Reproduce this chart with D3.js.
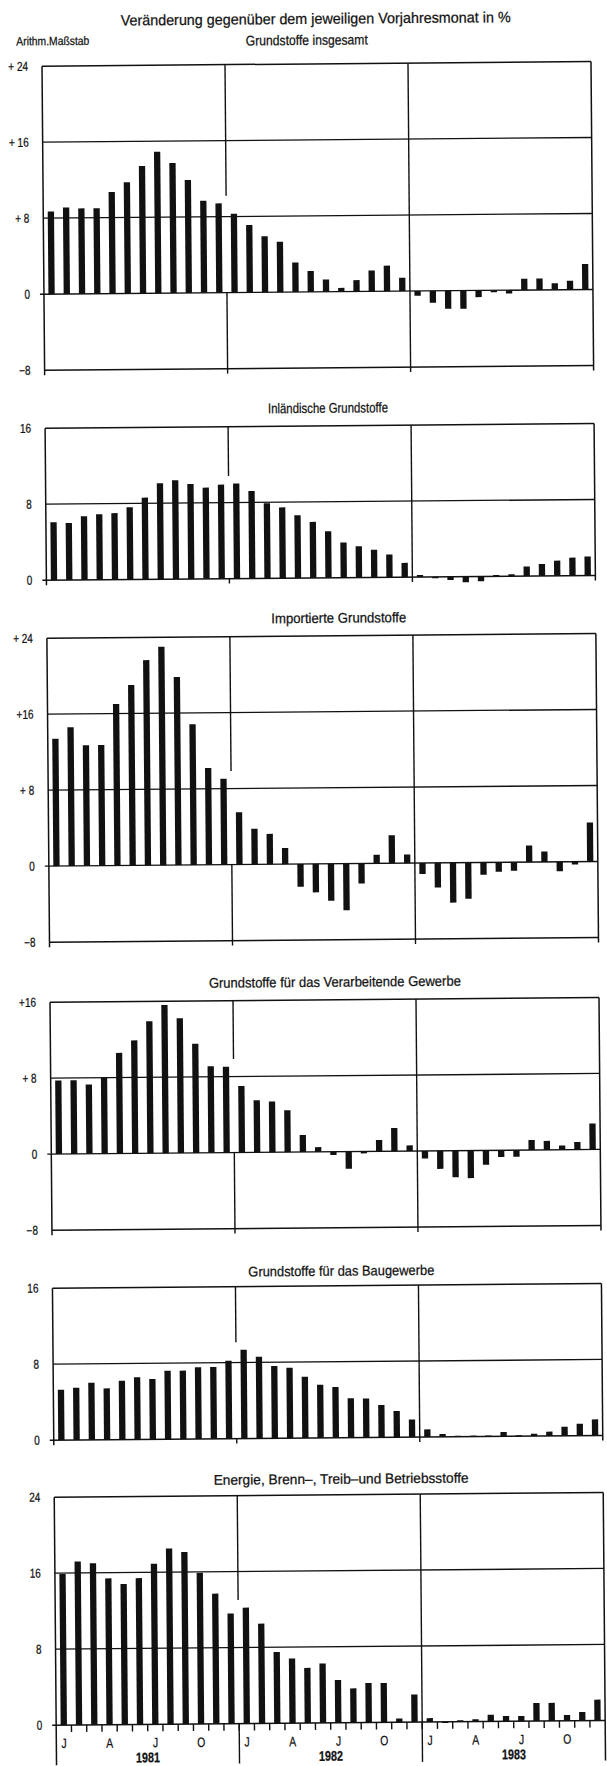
<!DOCTYPE html>
<html lang="de">
<head>
<meta charset="utf-8">
<title>Grundstoffpreise</title>
<script src="https://cdn.jsdelivr.net/npm/d3@7"></script>
<style>
  body { margin: 0; background: #fff; }
  text { font-family: "Liberation Sans", Arial, sans-serif; fill: #111; stroke: #111; stroke-width: 0.25px; }
</style>
</head>
<body>
<script>
// --- data ---
var years = ["1981", "1982", "1983"];
var monthLabels = ["J", "", "", "A", "", "", "J", "", "", "O", "", ""];

var insgesamt = [8.7, 9.1, 9.0, 9.0, 10.7, 11.7, 13.4, 14.9, 13.7, 11.9, 9.7, 9.4,
                 8.3, 7.1, 5.9, 5.3, 3.1, 2.2, 1.3, 0.4, 1.2, 2.2, 2.7, 1.4,
                 -0.5, -1.25, -1.9, -1.9, -0.7, -0.2, -0.35, 1.2, 1.2, 0.7, 0.95, 2.7];
var inland = [6.1, 6.0, 6.7, 6.9, 7.0, 7.6, 8.6, 10.1, 10.4, 10.0, 9.6, 9.9,
              10.0, 9.2, 7.9, 7.45, 6.6, 5.9, 4.9, 3.7, 3.3, 2.9, 2.4, 1.5,
              0.2, -0.15, -0.35, -0.6, -0.5, 0.15, 0.2, 1.0, 1.25, 1.6, 1.9, 2.0];
var importiert = [13.4, 14.6, 12.7, 12.7, 17.0, 19.0, 21.6, 23.0, 19.8, 14.8, 10.2, 9.05,
                  5.5, 3.75, 3.2, 1.7, -2.4, -3.0, -3.9, -4.9, -2.1, 0.9, 2.95, 0.9,
                  -1.15, -2.6, -4.2, -3.8, -1.3, -1.0, -0.9, 1.75, 1.1, -1.0, -0.3, 4.1];
var verarbeitend = [7.75, 7.75, 7.3, 8.0, 10.6, 11.9, 13.9, 15.6, 14.2, 11.5, 9.1, 9.05,
                    7.0, 5.5, 5.35, 4.4, 1.8, 0.5, -0.35, -1.8, -0.2, 1.2, 2.45, 0.6,
                    -0.8, -1.9, -2.8, -2.9, -1.5, -0.7, -0.7, 1.05, 0.95, 0.45, 0.8, 2.75];
var bau = [5.3, 5.5, 6.0, 5.4, 6.2, 6.55, 6.35, 7.2, 7.2, 7.55, 7.55, 8.2,
           9.35, 8.6, 7.6, 7.4, 6.45, 5.6, 5.35, 4.15, 4.1, 3.4, 2.75, 1.85,
           0.8, 0.3, 0.1, 0.1, 0.1, 0.45, 0.1, 0.25, 0.45, 0.95, 1.25, 1.7];
var energie = [15.9, 17.2, 17.0, 15.4, 14.8, 15.4, 16.9, 18.5, 18.1, 15.9, 13.7, 11.6,
               12.2, 10.5, 7.5, 6.8, 5.8, 6.25, 4.5, 3.6, 4.15, 4.15, 0.4, 2.9,
               0.4, -0.1, 0.15, 0.25, 0.7, 0.55, 0.55, 1.9, 1.9, 0.6, 0.9, 2.2];

var titles = ["Grundstoffe insgesamt", "Inländische Grundstoffe", "Importierte Grundstoffe",
              "Grundstoffe für das Verarbeitende Gewerbe", "Grundstoffe für das Baugewerbe",
              "Energie, Brenn–, Treib–und Betriebsstoffe"];
var series = [insgesamt, inland, importiert, verarbeitend, bau, energie];
var tickValues = [[24, 16, 8, 0, -8], [16, 8, 0], [24, 16, 8, 0, -8],
                  [16, 8, 0, -8], [16, 8, 0], [24, 16, 8, 0]];
var tickTexts = [["+ 24", "+ 16", "+ 8", "0", "−8"], ["16", "8", "0"],
                 ["+ 24", "+16", "+ 8", "0", "−8"], ["+16", "+ 8", "0", "−8"],
                 ["16", "8", "0"], ["24", "16", "8", "0"]];

// --- layout ---
var W = 607, H = 1766;
var left = 49, right = 598, unit = 9.5;
var panelTop = [64, 426, 636, 1000, 1286, 1495];
var titleX = [314, 332, 341, 334, 338, 336],
    titleY = [45, 413, 623, 987, 1276, 1484],
    titleW = [122, 120, 135, 252, 186, 255];
var squeeze = 0.77;

var months = [];
years.forEach(function(y) { d3.range(12).forEach(function(m) { months.push(y + "-" + (m + 1)); }); });

var x = d3.scaleBand().domain(months).range([left, right]);
var barW = 6.3;

var svg = d3.select("body").append("svg")
    .attr("width", W).attr("height", H);

// the scanned page sits slightly askew
var page = svg.append("g").attr("transform", "rotate(-0.49 303 883)");

function label(g, px, py, str, size, anchor, weight) {
  return g.append("text")
    .attr("transform", "translate(" + px + "," + py + ") scale(" + squeeze + ",1)")
    .attr("text-anchor", anchor || "middle")
    .style("font-size", size + "px")
    .style("font-weight", weight || "normal")
    .text(str);
}
function fitted(g, cx, py, str, size, w) {
  return g.append("text")
    .attr("x", cx - w / 2).attr("y", py)
    .attr("textLength", w).attr("lengthAdjust", "spacingAndGlyphs")
    .style("font-size", size + "px")
    .text(str);
}
function line(g, x1, y1, x2, y2, sw) {
  g.append("line").attr("x1", x1).attr("y1", y1).attr("x2", x2).attr("y2", y2)
    .attr("stroke", "#111").attr("stroke-width", sw || 1.4);
}

fitted(page, 323, 24, "Veränderung gegenüber dem jeweiligen Vorjahresmonat in %", 15, 390);
fitted(page, 60, 43, "Arithm.Maßstab", 12, 73);

var div1 = x("1982-1"), div2 = x("1983-1");

series.forEach(function(values, p) {
  var ticks = tickValues[p];
  var hi = d3.max(ticks), lo = d3.min(ticks);
  var top = panelTop[p];
  var y = d3.scaleLinear().domain([lo, hi]).range([top + (hi - lo) * unit, top]);
  var g = page.append("g");
  var bottom = y(lo), last = p === series.length - 1;

  fitted(g, titleX[p], titleY[p], titles[p], 14, titleW[p]);

  // grid and frame
  ticks.forEach(function(t) {
    line(g, t === 0 ? left - 4 : left, y(t), right, y(t), t === hi || t === lo ? 1.5 : 1.3);
  });
  var stubEnd = last ? 1763 : bottom + 5;
  line(g, left, top, left, stubEnd, 1.5);
  line(g, right, top, right, stubEnd, 1.5);
  line(g, div2, top, div2, stubEnd, 1.4);
  // the 1981/82 divider breaks off above the bars
  var cut = y(Math.max(values[11], values[12]) + 0.8);
  line(g, div1, top, div1, cut, 1.4);
  line(g, div1, y(0), div1, stubEnd, 1.4);

  // tick labels
  ticks.forEach(function(t, i) {
    label(g, 35, y(t) + 4.5, tickTexts[p][i], 13, "end");
  });

  // bars
  g.selectAll("rect.bar").data(values).enter().append("rect")
    .attr("class", "bar")
    .attr("x", function(d, i) { return x(months[i]) + (x.bandwidth() - barW) / 2; })
    .attr("y", function(d) { return y(Math.max(0, d)); })
    .attr("width", barW)
    .attr("height", function(d) { return Math.max(1.2, Math.abs(y(d) - y(0))); })
    .attr("fill", "#111");

  if (last) {
    var z = y(0);
    g.selectAll("line.mtick").data(months.slice(1)).enter().append("line")
      .attr("class", "mtick")
      .attr("x1", function(m) { return x(m); }).attr("x2", function(m) { return x(m); })
      .attr("y1", z).attr("y2", z + 7)
      .attr("stroke", "#111").attr("stroke-width", 1.4);
    months.forEach(function(m, i) {
      var t = monthLabels[i % 12];
      if (t) label(g, x(m) + x.bandwidth() / 2, z + 23, t, 13.5, "middle");
    });
    years.forEach(function(yr) {
      var a = x(yr + "-1"), b = x(yr + "-12") + x.bandwidth();
      label(g, (a + b) / 2, z + 38, yr, 14, "middle", "bold");
    });
  }
});
</script>
</body>
</html>
